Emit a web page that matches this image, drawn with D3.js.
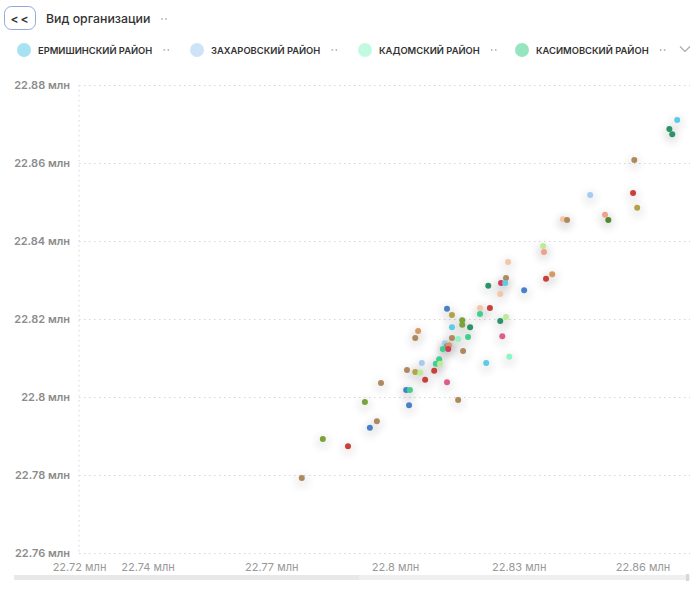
<!DOCTYPE html>
<html>
<head>
<meta charset="utf-8">
<script src="https://cdn.jsdelivr.net/npm/d3@7"></script>
<style>
  body { margin: 0; background: #fff; font-family: Inter, "Noto Sans", sans-serif; }
  #chart svg { display: block; }
</style>
</head>
<body>
<div id="chart"></div>
<script>
(function () {
  // series (districts); only the first four fit in the legend row
  const seriesNames = [
    "Ермишинский район", "Захаровский район", "Кадомский район", "Касимовский район",
    "Клепиковский район", "Кораблинский район", "Милославский район", "Михайловский район",
    "Пителинский район", "Пронский район", "Путятинский район", "Рыбновский район",
    "Ряжский район", "Рязанский район", "Сапожковский район", "Сараевский район",
    "Сасовский район"
  ];
  const seriesColors = [
    "#5ccbe6", "#a6cbf2", "#8ff5c8", "#3fcf8e",
    "#2a9468", "#4a80c8", "#b08860", "#c9403a",
    "#b4a24a", "#f2c6a8", "#f0a08c", "#4f8a2e",
    "#bdeb95", "#d03a5e", "#7aa23a", "#d49a62",
    "#e05a8a"
  ];

  // points, values in millions
  const pointX = [
    22.8684, 22.8665, 22.8672, 22.8580, 22.8473, 22.8577, 22.8587, 22.8407, 22.8417, 22.8509,
    22.8517, 22.8359, 22.8361, 22.8274, 22.8269, 22.8257, 22.8267, 22.8226, 22.8313, 22.8366,
    22.8381, 22.8255, 22.8206, 22.8230, 22.8206, 22.8126, 22.8138, 22.8163, 22.8163, 22.8182,
    22.8255, 22.8269, 22.8138, 22.8177, 22.8153, 22.8138, 22.8260, 22.8056, 22.8049, 22.8121,
    22.8126, 22.8131, 22.8116, 22.8129, 22.8165, 22.8107, 22.8277, 22.8065, 22.8099, 22.8109,
    22.8095, 22.8029, 22.8049, 22.8061, 22.8073, 22.8126, 22.8221, 22.7966, 22.8027, 22.8036,
    22.8034, 22.8153, 22.7927, 22.7956, 22.7939, 22.7825, 22.7886, 22.7774
  ];
  const pointY = [
    22.8710, 22.8687, 22.8674, 22.8608, 22.8518, 22.8523, 22.8485, 22.8456, 22.8454, 22.8467,
    22.8454, 22.8387, 22.8372, 22.8346, 22.8305, 22.8292, 22.8292, 22.8285, 22.8274, 22.8303,
    22.8315, 22.8264, 22.8228, 22.8228, 22.8213, 22.8226, 22.8210, 22.8197, 22.8185, 22.8179,
    22.8195, 22.8205, 22.8179, 22.8154, 22.8149, 22.8151, 22.8156, 22.8169, 22.8151, 22.8138,
    22.8131, 22.8133, 22.8123, 22.8123, 22.8118, 22.8097, 22.8103, 22.8087, 22.8085, 22.8085,
    22.8067, 22.8069, 22.8064, 22.8062, 22.8044, 22.8038, 22.8087, 22.8036, 22.8018, 22.8018,
    22.7979, 22.7992, 22.7987, 22.7938, 22.7921, 22.7892, 22.7874, 22.7792
  ];
  const pointSeries = [
    0, 4, 4, 6, 1, 7, 8, 9, 6, 10,
    11, 12, 10, 9, 6, 13, 0, 4, 5, 7,
    15, 9, 9, 7, 3, 5, 8, 14, 14, 4,
    4, 12, 0, 3, 2, 6, 16, 15, 6, 1,
    6, 15, 3, 13, 6, 3, 2, 1, 3, 12,
    7, 6, 8, 12, 7, 16, 0, 6, 5, 3,
    5, 6, 14, 6, 5, 14, 7, 6
  ];

  const yTicks = [22.76, 22.78, 22.80, 22.82, 22.84, 22.86, 22.88];
  const xTicks = [22.7234, 22.74, 22.77, 22.80, 22.83, 22.86];
  const xDomain = [22.7234, 22.8715];

  const width = 700, height = 591;
  const plot = { left: 79, right: 690, top: 85, bottom: 553 };

  const svg = d3.select("#chart").append("svg")
    .attr("width", width)
    .attr("height", height);

  const defs = svg.append("defs");
  defs.append("filter").attr("id", "halo")
    .attr("x", "-200%").attr("y", "-200%").attr("width", "500%").attr("height", "500%")
    .append("feGaussianBlur").attr("stdDeviation", 3.5);

  // small "··" handle drawn as two dots
  function dots(sel, cx, cy) {
    [0, 4].forEach(dx => sel.append("circle")
      .attr("cx", cx + dx).attr("cy", cy).attr("r", 0.9).attr("fill", "#b5b5b5"));
  }

  // header
  svg.append("rect")
    .attr("x", 4.5).attr("y", 6.5).attr("width", 31).attr("height", 23).attr("rx", 7)
    .attr("fill", "#fff").attr("stroke", "#8fa9dc").attr("stroke-width", 1);
  svg.append("text")
    .attr("x", 20.5).attr("y", 22.5).attr("text-anchor", "middle")
    .style("font-size", "12px").style("font-weight", 600).style("fill", "#333")
    .style("letter-spacing", "2px")
    .text("<<");
  svg.append("text")
    .attr("x", 46).attr("y", 23)
    .style("font-size", "12.3px").style("font-weight", 500).style("fill", "#333")
    .text("Вид организации");
  dots(svg, 162, 19);

  // legend
  const legendX = [24, 197, 365, 522];
  const legend = svg.append("g").selectAll("g")
    .data(seriesNames.slice(0, 4))
    .join("g")
    .attr("transform", (d, i) => `translate(${legendX[i]},50)`);
  legend.append("circle")
    .attr("r", 7)
    .attr("fill", (d, i) => seriesColors[i])
    .attr("opacity", 0.55);
  legend.append("text")
    .attr("x", 14).attr("y", 3.5)
    .style("font-size", "9.4px").style("font-weight", 600).style("fill", "#333")
    .text(d => d.toUpperCase());
  legend.each(function () {
    const g = d3.select(this);
    const w = g.select("text").node().getComputedTextLength();
    dots(g, 14 + w + 12, 0);
  });
  svg.append("path")
    .attr("d", "M680,46.5 L685,51.5 L690,46.5")
    .attr("fill", "none").attr("stroke", "#aaa").attr("stroke-width", 1.2);

  // scales
  const x = d3.scaleLinear().domain(xDomain).range([plot.left, plot.right]);
  const y = d3.scaleLinear().domain([yTicks[0], yTicks[yTicks.length - 1]]).range([plot.bottom, plot.top]);
  const fmt = d => d3.format(".2~f")(d) + " млн";

  // y axis + horizontal grid
  const yAxis = svg.append("g")
    .attr("transform", `translate(${plot.left},0)`)
    .call(d3.axisLeft(y).tickValues(yTicks).tickFormat(fmt)
      .tickSizeInner(-(plot.right - plot.left)).tickSizeOuter(0).tickPadding(9));
  yAxis.select(".domain").remove();
  yAxis.selectAll(".tick line")
    .attr("stroke", "#d6d6d6").attr("stroke-dasharray", "1.5,3.5");
  yAxis.selectAll(".tick text")
    .style("font-family", "Inter, sans-serif")
    .style("font-size", "11px").style("font-weight", 600).style("fill", "#8c8c8c");

  // vertical axis line
  svg.append("line")
    .attr("x1", plot.left).attr("x2", plot.left)
    .attr("y1", plot.top).attr("y2", plot.bottom)
    .attr("stroke", "#d6d6d6").attr("stroke-dasharray", "1.5,3.5");

  // x axis
  const xAxis = svg.append("g")
    .attr("transform", `translate(0,${plot.bottom})`)
    .call(d3.axisBottom(x).tickValues(xTicks).tickFormat(fmt).tickSize(0).tickPadding(10));
  xAxis.select(".domain").remove();
  xAxis.selectAll(".tick text")
    .style("font-family", "Inter, sans-serif")
    .style("font-size", "11px").style("font-weight", 400).style("fill", "#999");

  // points
  const pts = pointX.map((v, i) => ({ x: v, y: pointY[i], s: pointSeries[i] }));

  svg.append("g").selectAll("circle")
    .data(pts)
    .join("circle")
    .attr("cx", d => x(d.x))
    .attr("cy", d => y(d.y) + 3)
    .attr("r", 8)
    .attr("fill", "#000")
    .attr("opacity", 0.05)
    .attr("filter", "url(#halo)");

  svg.append("g").selectAll("circle")
    .data(pts)
    .join("circle")
    .attr("cx", d => x(d.x))
    .attr("cy", d => y(d.y))
    .attr("r", 3)
    .attr("fill", d => seriesColors[d.s]);

  // scrollbar
  svg.append("rect")
    .attr("x", 14).attr("y", 575).attr("width", 676).attr("height", 5)
    .attr("fill", "#efefef");
  svg.append("rect")
    .attr("x", 14).attr("y", 575).attr("width", 345).attr("height", 5)
    .attr("fill", "#e8e8e8");
  svg.append("rect")
    .attr("x", 686).attr("y", 574).attr("width", 3).attr("height", 7)
    .attr("fill", "#d8d8d8");
})();
</script>
</body>
</html>
